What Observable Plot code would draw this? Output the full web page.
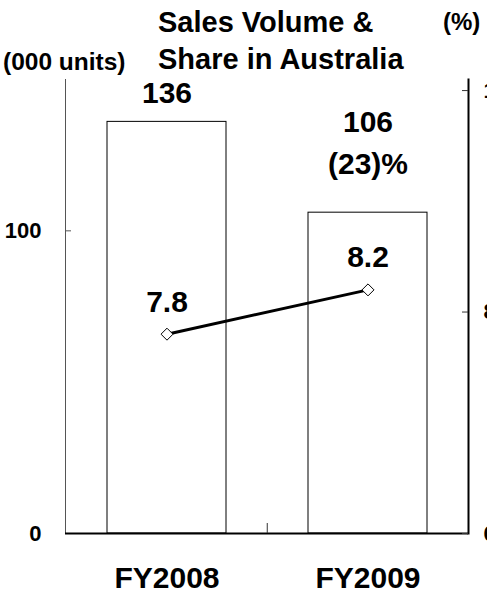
<!DOCTYPE html>
<html>
<head>
<meta charset="utf-8">
<script src="https://cdn.jsdelivr.net/npm/d3@7"></script>
<script src="https://cdn.jsdelivr.net/npm/@observablehq/plot@0.6"></script>
<style>
  html, body { margin: 0; padding: 0; background: #fff; }
  #chart { position: relative; width: 487px; height: 594px; overflow: hidden;
           font-family: "Liberation Sans", Arial, sans-serif; font-weight: bold; color: #000; }
  #chart svg { position: absolute; left: 0; top: 0; }
  .lbl { position: absolute; white-space: nowrap; }
</style>
</head>
<body>
<div id="chart">
  <div class="lbl" style="left:158px; top:8px; font-size:29px; line-height:29px;">Sales Volume &amp;</div>
  <div class="lbl" style="left:158px; top:45px; font-size:29px; line-height:29px;">Share in Australia</div>
  <div class="lbl" style="left:3px; top:50px; font-size:24.5px; line-height:24px;">(000 units)</div>
  <div class="lbl" style="left:443px; top:10px; font-size:24px; line-height:24px;">(%)</div>
</div>
<script>
// Fiscal years, sales volume (thousand units) and market share (%)
const years = ["FY2008", "FY2009"];
const volume = [136, 106];
const volumeLabels = ["136", "106\n(23)%"];
const share = [7.8, 8.2];
const volumeTicks = [0, 100];
const shareTicks = [6, 8, 10];

const rows = years.map((year, i) => ({
  year, volume: volume[i], volumeLabel: volumeLabels[i], share: share[i]
}));

// Both layers share the same frame so the two y axes line up
const frame = {
  width: 487, height: 594,
  marginTop: 79, marginRight: 19, marginBottom: 61, marginLeft: 65
};
const xScale = { type: "band", domain: years, paddingInner: 0.41, paddingOuter: 0.205 };
const font = { fontFamily: "'Liberation Sans', Arial, sans-serif", fontWeight: "bold",
               background: "transparent", overflow: "visible" };

// Layer 1: volume bars, left axis, category labels
const bars = Plot.plot({
  ...frame,
  style: font,
  x: { ...xScale, label: null },
  y: { domain: [0, 150], label: null },
  marks: [
    Plot.barY(rows, { x: "year", y: "volume", fill: "white", stroke: "black", strokeWidth: 1 }),
    Plot.frame({ anchor: "left", stroke: "#555" }),
    Plot.ruleY(volumeTicks, { insetRight: 397, stroke: "#555" }),
    Plot.ruleY([0], { stroke: "black", strokeWidth: 2 }),
    Plot.ruleX([years[1]], { dx: -100.75, insetTop: 444, stroke: "#333" }),
    Plot.axisY(volumeTicks, { tickSize: 0, tickPadding: 24, fontSize: 22, fontWeight: "bold", label: null }),
    Plot.axisX({ tickSize: 0, tickPadding: 33, fontSize: 30, fontWeight: "bold", label: null }),
    Plot.text(rows, { filter: d => d.year === years[0], x: "year", y: "volume", text: "volumeLabel",
                      dy: -28, fontSize: 30, fontWeight: "bold" }),
    Plot.text(rows, { filter: d => d.year === years[1], x: "year", y: "volume", text: "volumeLabel",
                      dy: -73, lineHeight: 1.4, fontSize: 30, fontWeight: "bold" })
  ]
});

// Layer 2: market share line on its own right-hand axis
const line = Plot.plot({
  ...frame,
  style: font,
  x: { ...xScale, axis: null },
  y: { domain: [6, 10.1], axis: null },
  marks: [
    Plot.frame({ anchor: "right", stroke: "black", strokeWidth: 2 }),
    Plot.ruleY(shareTicks, { insetLeft: 397, stroke: "#333" }),
    Plot.axisY(shareTicks, { anchor: "right", tickSize: 0, tickPadding: 15, fontSize: 22,
                             fontWeight: "bold", textAnchor: "start", label: null }),
    Plot.line(rows, { x: "year", y: "share", stroke: "black", strokeWidth: 3 }),
    Plot.dot(rows, { x: "year", y: "share", symbol: "diamond2", r: 5.4,
                     fill: "white", stroke: "black", strokeWidth: 1 }),
    Plot.text(rows, { x: "year", y: "share", text: d => d.share.toFixed(1),
                      dy: -32, fontSize: 30, fontWeight: "bold" })
  ]
});

const chart = document.getElementById("chart");
chart.prepend(line);
chart.prepend(bars);
</script>
</body>
</html>
